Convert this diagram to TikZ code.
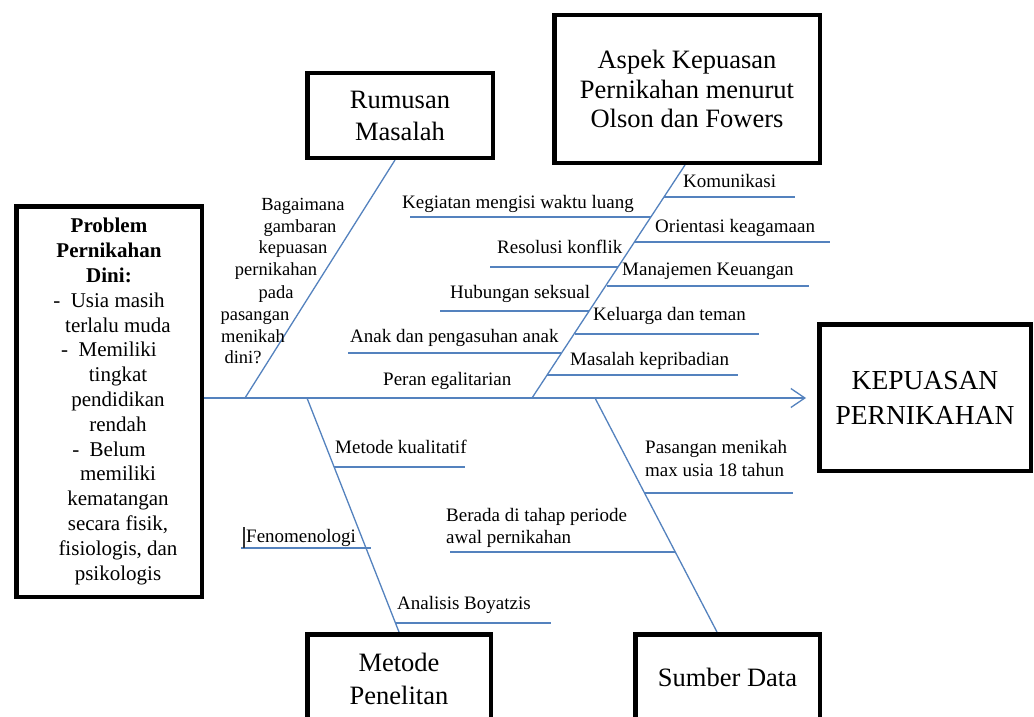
\documentclass[tikz,border=0pt]{standalone}
\usepackage{fontspec}
\setmainfont{Liberation Serif}
\usetikzlibrary{arrows.meta,backgrounds}
\definecolor{bonecol}{RGB}{84,130,190}
\begin{document}
\begin{tikzpicture}[x=1pt,y=-1pt,
  bigbox/.style={draw=black, line width=4.5pt, inner sep=0pt, align=center, font=\fontsize{26.5}{32}\selectfont},
  bone/.style={draw=bonecol, line width=1.3pt},
  lbl/.style={anchor=base west, inner sep=0pt, font=\fontsize{19}{22.5}\selectfont},
  qtxt/.style={anchor=base, inner sep=0pt, font=\fontsize{18.5}{21.7}\selectfont}]
\clip (0,0) rectangle (1034,717);

% boxes
\node[bigbox, minimum width=185.5pt, minimum height=390.5pt, font=\fontsize{21}{24.8}\selectfont] (prob) at (109,401.5)
 {\textbf{Problem}\\\textbf{Pernikahan}\\\textbf{Dini:}\\-\ \ Usia masih\\\hspace*{18pt}terlalu muda\\-\ \ Memiliki\\\hspace*{18pt}tingkat\\\hspace*{18pt}pendidikan\\\hspace*{18pt}rendah\\-\ \ Belum\\\hspace*{18pt}memiliki\\\hspace*{18pt}kematangan\\\hspace*{18pt}secara fisik,\\\hspace*{18pt}fisiologis, dan\\\hspace*{18pt}psikologis};
\node[bigbox, minimum width=185.5pt, minimum height=84.5pt] (rum) at (400,115.5) {Rumusan\\Masalah};
\node[bigbox, minimum width=265.5pt, minimum height=147.5pt, font=\fontsize{26.5}{29.5}\selectfont] (asp) at (687,89) {Aspek Kepuasan\\Pernikahan menurut\\Olson dan Fowers};
\node[bigbox, minimum width=211.5pt, minimum height=146.5pt, font=\fontsize{27.5}{35}\selectfont] (kep) at (925,397.5) {KEPUASAN\\PERNIKAHAN};
\node[bigbox, minimum width=183.5pt, minimum height=88.5pt, font=\fontsize{26.5}{33}\selectfont] (met) at (399,678.5) {Metode\\Penelitan};
\node[bigbox, minimum width=184.5pt, minimum height=85.5pt] (sum) at (727.5,677) {Sumber Data};

% coordinates of the fishbone
\coordinate (s0) at (204,398);
\coordinate (s1) at (806,398);
\coordinate (rb0) at (245,398);
\coordinate (ab0) at (532,398);
\coordinate (mb0) at (307,398);
\coordinate (sb0) at (595,398);

\begin{scope}[on background layer]
\fill[white] (0,0) rectangle (1034,717);
\draw[bone, -{Straight Barb[length=14pt,width=19pt]}] (s0) -- (s1);
\draw[bone] (rb0) -- ([xshift=-5pt]rum.south);
\draw[bone] (ab0) -- ([xshift=-2pt]asp.south);
\draw[bone] (mb0) -- (met.north);
\draw[bone] (sb0) -- ([xshift=-10.5pt]sum.north);
\end{scope}

% sub-bones: aspek, right side
\coordinate (k1a) at (664,197); \coordinate (k1b) at (795,197);
\coordinate (k2a) at (634,242); \coordinate (k2b) at (830,242);
\coordinate (k3a) at (607,286); \coordinate (k3b) at (809,286);
\coordinate (k4a) at (575,334); \coordinate (k4b) at (759,334);
\coordinate (k5a) at (547,375); \coordinate (k5b) at (738,375);
% aspek, left side
\coordinate (k6a) at (410,217); \coordinate (k6b) at (651,217);
\coordinate (k7a) at (490,267); \coordinate (k7b) at (618,267);
\coordinate (k8a) at (440,311); \coordinate (k8b) at (589,311);
\coordinate (k9a) at (348,353); \coordinate (k9b) at (561,353);
% metode
\coordinate (m1a) at (334,467); \coordinate (m1b) at (465,467);
\coordinate (m2a) at (241,548); \coordinate (m2b) at (371,548);
\coordinate (m3a) at (395,623); \coordinate (m3b) at (551,623);
% sumber
\coordinate (d1a) at (645,493); \coordinate (d1b) at (793,493);
\coordinate (d2a) at (450,552); \coordinate (d2b) at (675,552);

\foreach \a/\b in {k1a/k1b,k2a/k2b,k3a/k3b,k4a/k4b,k5a/k5b,k6a/k6b,k7a/k7b,k8a/k8b,k9a/k9b,m1a/m1b,m2a/m2b,m3a/m3b,d1a/d1b,d2a/d2b}
  \draw[bone] (\a) -- (\b);

% cursor mark before Fenomenologi
\coordinate (cur0) at (244,527); \coordinate (cur1) at (244,548);
\draw[line width=1.2pt, black!80] (cur0) -- (cur1);

% labels
\node[lbl] (l1) at (683,187) {Komunikasi};
\node[lbl] (l2) at (655,232) {Orientasi keagamaan};
\node[lbl] (l3) at (622,275) {Manajemen Keuangan};
\node[lbl] (l4) at (593,320) {Keluarga dan teman};
\node[lbl] (l5) at (570,365) {Masalah kepribadian};
\node[lbl] (l6) at (402,208) {Kegiatan mengisi waktu luang};
\node[lbl] (l7) at (497,253) {Resolusi konflik};
\node[lbl] (l8) at (450,298) {Hubungan seksual};
\node[lbl] (l9) at (350,342) {Anak dan pengasuhan anak};
\node[lbl] (l10) at (383,385) {Peran egalitarian};
\node[lbl] (l11) at (335,453) {Metode kualitatif};
\node[lbl] (l12) at (246,542) {Fenomenologi};
\node[lbl] (l13) at (397,609) {Analisis Boyatzis};
\node[lbl] (l14a) at (645,453) {Pasangan menikah};
\node[lbl] (l14b) at (645,476) {max usia 18 tahun};
\node[lbl] (l15a) at (446,521) {Berada di tahap periode};
\node[lbl] (l15b) at (446,543) {awal pernikahan};

% research question
\node[qtxt] (q1) at (303,210) {Bagaimana};
\node[qtxt] (q2) at (300,232) {gambaran};
\node[qtxt] (q3) at (293,253) {kepuasan};
\node[qtxt] (q4) at (276,275) {pernikahan};
\node[qtxt] (q5) at (276,298) {pada};
\node[qtxt] (q6) at (255,320) {pasangan};
\node[qtxt] (q7) at (253,342) {menikah};
\node[qtxt] (q8) at (243,363) {dini?};
\end{tikzpicture}
\end{document}
